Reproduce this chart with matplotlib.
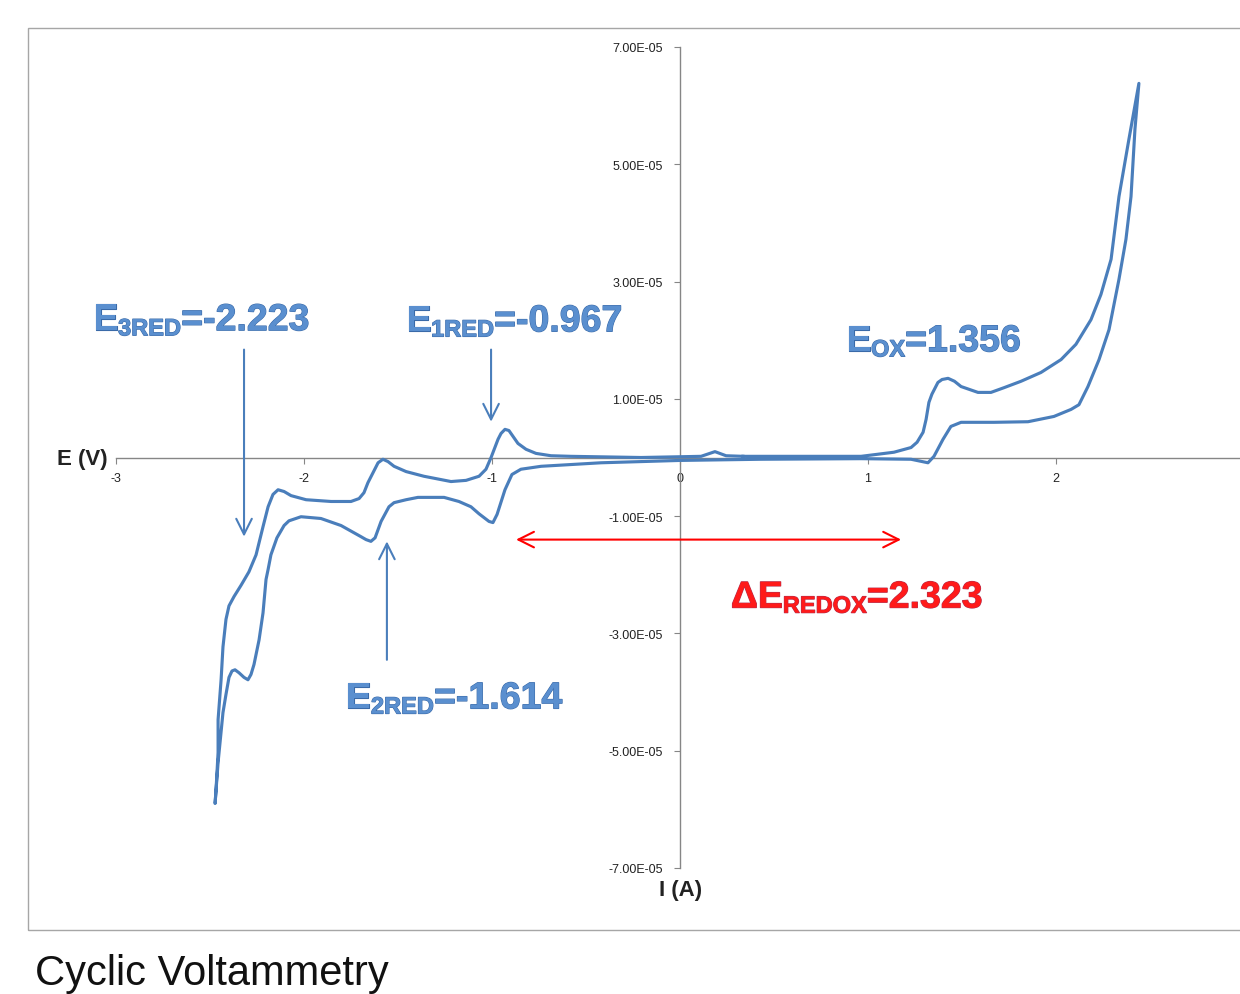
import numpy as np
import matplotlib.pyplot as plt
import matplotlib.patheffects as pe
from matplotlib.patches import Rectangle
from matplotlib.ticker import FuncFormatter

plt.rcParams['font.family'] = ['Liberation Sans', 'DejaVu Sans']
plt.rcParams['axes.unicode_minus'] = False

# cyclic voltammogram, one closed loop (E in V, I in 1e-5 A)
# forward scan towards oxidation
E_fwd = [0.335, 0.644, 0.963, 1.138, 1.229, 1.261, 1.293, 1.309, 1.324, 1.340,
         1.372, 1.394, 1.426, 1.460, 1.495, 1.585, 1.654, 1.723, 1.814, 1.920,
         2.027, 2.106, 2.186, 2.239, 2.293, 2.335, 2.388, 2.441]
I_fwd = [0.02, 0.02, 0.02, 0.09, 0.17, 0.26, 0.43, 0.65, 0.94, 1.08,
         1.28, 1.33, 1.35, 1.30, 1.21, 1.11, 1.11, 1.19, 1.30, 1.45,
         1.67, 1.93, 2.35, 2.78, 3.38, 4.45, 5.43, 6.38]
# reverse scan down to the reductions
E_rev = [2.420, 2.399, 2.372, 2.335, 2.282, 2.229, 2.170, 2.122, 2.080, 1.989,
         1.851, 1.670, 1.495, 1.441, 1.399, 1.351, 1.319, 1.229, 0.963, 0.431,
         0.0, -0.420, -0.739, -0.846, -0.894, -0.931, -0.973, -0.995, -1.016, -1.069,
         -1.112, -1.176, -1.255, -1.394, -1.457, -1.521, -1.548, -1.590, -1.622, -1.644,
         -1.670, -1.697, -1.803, -1.910, -2.016, -2.080, -2.106, -2.144, -2.176, -2.191,
         -2.202, -2.218, -2.239, -2.266, -2.282, -2.298, -2.319, -2.346, -2.367, -2.383,
         -2.399, -2.415, -2.431, -2.457, -2.473]
I_rev = [5.60, 4.45, 3.72, 3.04, 2.18, 1.67, 1.21, 0.90, 0.82, 0.70,
         0.61, 0.60, 0.60, 0.53, 0.31, 0.02, -0.09, -0.03, -0.02, -0.03,
         -0.05, -0.09, -0.15, -0.20, -0.29, -0.55, -0.97, -1.11, -1.09, -0.96,
         -0.84, -0.75, -0.68, -0.68, -0.72, -0.77, -0.84, -1.09, -1.37, -1.43,
         -1.40, -1.35, -1.16, -1.04, -1.01, -1.08, -1.16, -1.37, -1.66, -1.91,
         -2.08, -2.65, -3.11, -3.53, -3.70, -3.79, -3.75, -3.67, -3.62, -3.64,
         -3.75, -4.04, -4.35, -5.20, -5.90]
# return scan back to start
E_ret = [-2.468, -2.457, -2.457, -2.441, -2.431, -2.415, -2.399, -2.372, -2.335, -2.293,
         -2.255, -2.218, -2.191, -2.165, -2.138, -2.106, -2.069, -1.989, -1.856, -1.750,
         -1.707, -1.681, -1.660, -1.633, -1.606, -1.580, -1.553, -1.521, -1.457, -1.362,
         -1.218, -1.138, -1.069, -1.032, -1.005, -0.968, -0.952, -0.931, -0.910, -0.888,
         -0.862, -0.819, -0.766, -0.686, -0.580, -0.207, 0.112, 0.186, 0.245, 0.335]
I_ret = [-5.67, -5.03, -4.47, -3.79, -3.23, -2.76, -2.53, -2.37, -2.18, -1.95,
         -1.66, -1.18, -0.84, -0.63, -0.55, -0.58, -0.65, -0.72, -0.75, -0.75,
         -0.70, -0.60, -0.43, -0.26, -0.09, -0.03, -0.07, -0.15, -0.24, -0.32,
         -0.41, -0.39, -0.32, -0.20, 0.0, 0.31, 0.41, 0.48, 0.46, 0.36,
         0.24, 0.14, 0.07, 0.03, 0.02, 0.0, 0.02, 0.10, 0.03, 0.02]

E = np.array(E_fwd + E_rev + E_ret)
I = np.array(I_fwd + I_rev + I_ret) * 1e-5

xticks = [-3, -2, -1, 0, 1, 2]
yticks = [-7e-5, -5e-5, -3e-5, -1e-5, 1e-5, 3e-5, 5e-5, 7e-5]

blue = '#4A7EBB'
gray = '#868686'

######################################

fig = plt.figure(figsize=(12.4, 9.95), dpi=100)
ax = fig.add_axes([116/1240, 126/995, 1128/1240, 821/995])
ax.patch.set_alpha(0)

ax.plot(E, I, c=blue, lw=2.25, solid_joinstyle='round', zorder=3)

ax.set_xlim(-3, 3)
ax.set_ylim(-7e-5, 7e-5)

for s in ('top', 'right'):
    ax.spines[s].set_visible(False)
ax.spines['left'].set_position(('data', 0))
ax.spines['bottom'].set_position(('data', 0))
for s in ('left', 'bottom'):
    ax.spines[s].set_color(gray)
    ax.spines[s].set_linewidth(1.0)

ax.set_xticks(xticks)
ax.set_yticks(yticks)
ax.yaxis.set_major_formatter(FuncFormatter(lambda v, p: f'{v:.2E}'))
ax.tick_params(axis='both', direction='out', length=4.5, color=gray,
               labelsize=9, labelcolor='#222222')
ax.tick_params(axis='y', pad=8)
ax.tick_params(axis='x', pad=6)

# frame around the chart area
fig.patches.append(Rectangle((28/1240, 64/995), 1.0, 902/995,
                             transform=fig.transFigure, fill=False,
                             edgecolor='#A6A6A6', lw=1.0))

# axis titles
fig.text(108/1240, 1 - 460/995, 'E (V)', ha='right', va='center',
         fontsize=16, weight='bold', color='#222222')
fig.text(681/1240, 1 - 891/995, 'I (A)', ha='center', va='center',
         fontsize=16, weight='bold', color='#222222')
fig.text(35/1240, 1 - 985/995, 'Cyclic Voltammetry', ha='left',
         va='baseline', fontsize=30, color='#111111')


def label(x, y, head, sub, rest, fill, edge):
    fx = [pe.withStroke(linewidth=0.8, foreground=edge)]
    t1 = ax.text(x, y, head, fontsize=27, weight='bold', color=fill,
                 va='baseline', ha='left', path_effects=fx, clip_on=False)
    t2 = ax.annotate(sub, xy=(1, 0), xycoords=t1, xytext=(0, -1.5),
                     textcoords='offset points', fontsize=17, weight='bold',
                     color=fill, va='bottom', ha='left', path_effects=fx)
    ax.annotate(rest, xy=(1, 0), xycoords=(t2, t1), fontsize=27,
                weight='bold', color=fill, va='bottom', ha='left',
                path_effects=fx)


label(-3.122, 2.17e-5, 'E', '3RED', '=-2.223', '#5A8FCF', '#3A6AA8')
label(-1.457, 2.15e-5, 'E', '1RED', '=-0.967', '#5A8FCF', '#3A6AA8')
label(0.883, 1.81e-5, 'E', 'OX', '=1.356', '#5A8FCF', '#3A6AA8')
label(-1.777, -4.28e-5, 'E', '2RED', '=-1.614', '#5A8FCF', '#3A6AA8')
label(0.271, -2.56e-5, '\u0394E', 'REDOX', '=2.323', '#FF1A1A', '#B03050')

# arrows pointing at the peaks
aprops = dict(arrowstyle='->', color=blue, lw=1.5, mutation_scale=28,
              shrinkA=0, shrinkB=0)
ax.annotate('', xy=(-2.319, -1.35e-5), xytext=(-2.319, 1.84e-5), arrowprops=aprops)
ax.annotate('', xy=(-1.005, 0.61e-5), xytext=(-1.005, 1.84e-5), arrowprops=aprops)
ax.annotate('', xy=(-1.559, -1.43e-5), xytext=(-1.559, -3.45e-5), arrowprops=aprops)
ax.annotate('', xy=(1.176, -1.40e-5), xytext=(-0.872, -1.40e-5),
            arrowprops=dict(arrowstyle='<->', color='#FF0000', lw=1.5,
                            mutation_scale=28, shrinkA=0, shrinkB=0))

fig.savefig('out.png', dpi=100)
